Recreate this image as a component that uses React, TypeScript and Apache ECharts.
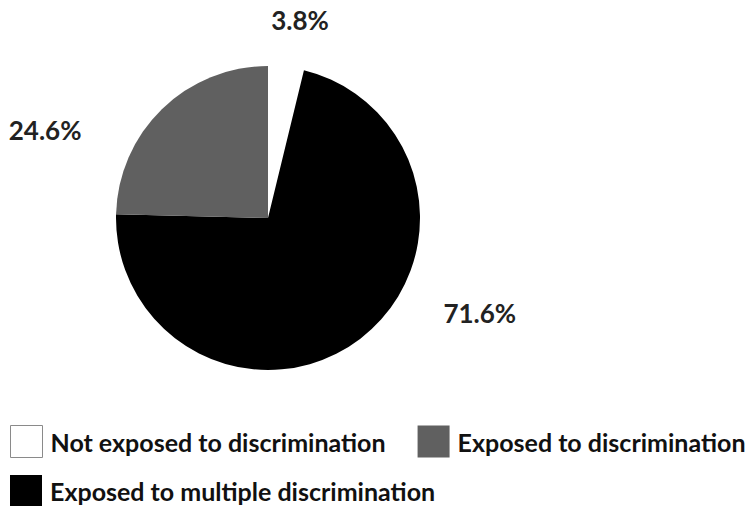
import React, { useEffect, useRef } from "react";
import * as echarts from "echarts";

const categories = [
  "Not exposed to discrimination",
  "Exposed to multiple discrimination",
  "Exposed to discrimination",
];
const values = [3.8, 71.6, 24.6];
const colors = ["#ffffff", "#000000", "#606060"];
const legendRow1 = ["Not exposed to discrimination", "Exposed to discrimination"];
const legendRow2 = ["Exposed to multiple discrimination"];

// label anchor positions (fraction of chart width/height)
const labelPos = [
  [0.399, 0.04],
  [0.638, 0.618],
  [0.06, 0.257],
];

export default function App() {
  const ref = useRef<HTMLDivElement>(null);
  useEffect(() => {
    if (!ref.current) return;
    const chart = echarts.init(ref.current, null, { renderer: "svg" });
    const W = 752;
    const H = 506;
    const legendText = {
      fontFamily: "Lato",
      fontWeight: "bold" as const,
      fontSize: 25,
      color: "#111111",
      padding: [0, 0, 0, 3],
    };
    const legendItem = (name: string) => {
      const i = categories.indexOf(name);
      return {
        name,
        itemStyle:
          i === 0
            ? { color: "#ffffff", borderColor: "#8a8a8a", borderWidth: 1 }
            : { color: colors[i], borderWidth: 0 },
      };
    };
    chart.setOption({
      animation: false,
      backgroundColor: "#ffffff",
      color: colors,
      legend: [
        {
          left: 5,
          top: 420,
          orient: "horizontal",
          icon: "rect",
          itemWidth: 32,
          itemHeight: 32,
          itemGap: 32,
          selectedMode: false,
          textStyle: legendText,
          data: legendRow1.map(legendItem),
        },
        {
          left: 5,
          top: 470,
          orient: "horizontal",
          icon: "rect",
          itemWidth: 32,
          itemHeight: 32,
          itemGap: 32,
          selectedMode: false,
          textStyle: legendText,
          data: legendRow2.map(legendItem),
        },
      ],
      series: [
        {
          type: "pie",
          center: [268, 218],
          radius: 152,
          startAngle: 90,
          clockwise: true,
          silent: true,
          data: categories.map((name, i) => ({
            name,
            value: values[i],
            itemStyle: { color: colors[i], borderWidth: 0 },
          })),
          label: {
            show: true,
            position: "outside",
            formatter: (p: any) => p.value.toFixed(1) + "%",
            fontFamily: "Lato",
            fontWeight: "bold",
            fontSize: 26,
            color: "#222222",
          },
          labelLine: { show: false },
          labelLayout: (params: any) => {
            const pos = labelPos[params.dataIndex];
            return {
              x: pos[0] * W,
              y: pos[1] * H,
              align: "center",
              verticalAlign: "middle",
            };
          },
        },
      ],
    });
    return () => chart.dispose();
  }, []);
  return (
    <div
      ref={ref}
      style={{ position: "fixed", left: 0, top: 0, width: 752, height: 506 }}
    />
  );
}
